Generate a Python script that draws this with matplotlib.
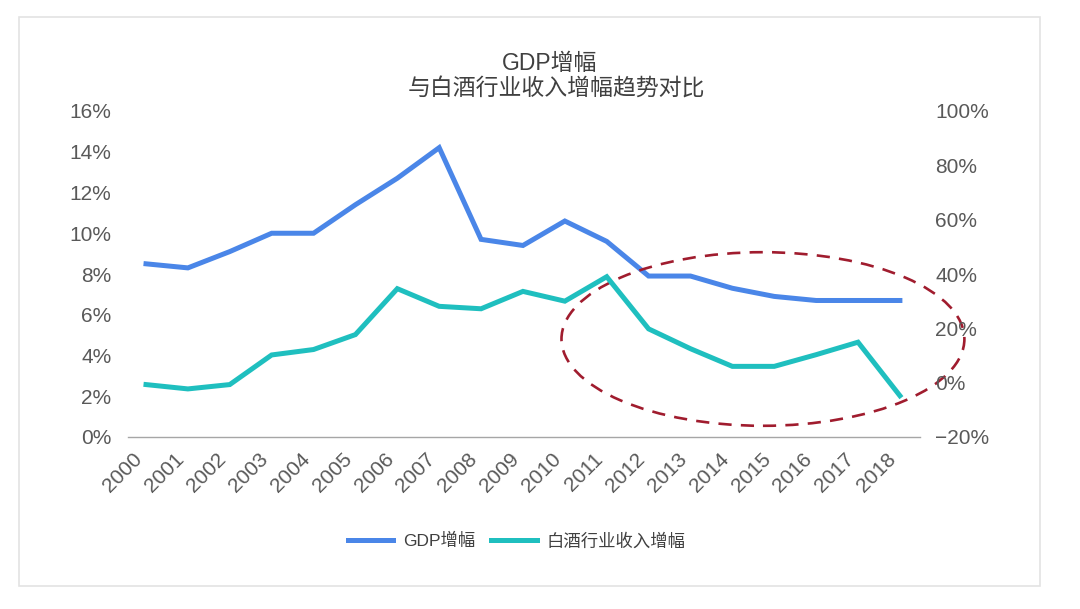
import matplotlib
matplotlib.use('Agg')
import matplotlib.pyplot as plt
from matplotlib.patches import Ellipse, Rectangle
from matplotlib.ticker import FuncFormatter

plt.rcParams['font.family'] = ['Liberation Sans', 'Noto Sans CJK SC', 'DejaVu Sans']

# --- data ---
years = [str(y) for y in range(2000, 2019)]
gdp_growth = [8.5, 8.3, 9.1, 10.0, 10.0, 11.4, 12.7, 14.2, 9.7, 9.4,
              10.6, 9.6, 7.9, 7.9, 7.3, 6.9, 6.7, 6.7, 6.7]          # left axis, %
baijiu_growth = [-0.7, -2.3, -0.7, 10.2, 12.2, 17.7, 34.6, 28.1, 27.2, 33.6,
                 30.0, 39.0, 19.8, 12.5, 6.0, 6.0, 10.3, 14.9, -4.8]  # right axis, %
left_ticks = [0, 2, 4, 6, 8, 10, 12, 14, 16]
right_ticks = [-20, 0, 20, 40, 60, 80, 100]

BLUE = '#4A86E8'
TEAL = '#1FBFBF'
TICK_GRAY = '#595959'
RED = '#A01C2E'

fig = plt.figure(figsize=(10.8, 6.09), dpi=100)
ax = fig.add_axes([128 / 1080, 1 - 437 / 609, (920 - 128) / 1080, (437 - 111) / 609])
ax2 = ax.twinx()

x = list(range(len(years)))
l1, = ax.plot(x, gdp_growth, color=BLUE, lw=3.6, solid_joinstyle='miter', label='GDP增幅', zorder=3)
l2, = ax2.plot(x, baijiu_growth, color=TEAL, lw=3.6, solid_joinstyle='miter', label='白酒行业收入增幅', zorder=3)

ax.set_xlim(-0.43, 18.48)
ax.set_ylim(0, 16)
ax2.set_ylim(-20, 100)
ax.set_yticks(left_ticks)
ax2.set_yticks(right_ticks)
ax.yaxis.set_major_formatter(FuncFormatter(lambda v, p: f'{v:.0f}%'))
ax2.yaxis.set_major_formatter(FuncFormatter(lambda v, p: f'{v:.0f}%'.replace('-', '\u2212')))

ax.set_xticks(x)
ax.set_xticklabels(years, rotation=45, ha='right')

for a in (ax, ax2):
    for s in ('top', 'left', 'right', 'bottom'):
        a.spines[s].set_visible(False)
    a.tick_params(length=0, labelsize=15, labelcolor=TICK_GRAY)
ax.spines['bottom'].set_visible(True)
ax.spines['bottom'].set_color('#A6A6A6')
ax.spines['bottom'].set_linewidth(1.0)
ax.tick_params(axis='y', pad=12)
ax.tick_params(axis='x', pad=9)
ax2.tick_params(axis='y', pad=11)

# dashed highlight ellipse around 2012-2018
ell = Ellipse((14.73, 4.81), width=9.62, height=8.52, fill=False,
              edgecolor=RED, lw=1.9, linestyle=(0, (5, 3.5)),
              clip_on=False, zorder=5)
ax.add_patch(ell)

# title
fig.text(550 / 1080, 1 - 63 / 609, 'GDP增幅', ha='center', va='center',
         fontsize=16.5, color='#404040')
fig.text(556 / 1080, 1 - 89 / 609, '与白酒行业收入增幅趋势对比', ha='center', va='center',
         fontsize=16.5, color='#404040')

# legend
fig.legend(handles=[l1, l2], loc='center', bbox_to_anchor=(517 / 1080, 1 - 541 / 609),
           ncol=2, frameon=False, fontsize=12.5, handlelength=2.6,
           handletextpad=0.6, columnspacing=0.9, labelcolor='#404040')

# light frame around the chart
fig.patches.append(Rectangle((19 / 1080, 1 - 586 / 609), (1040 - 19) / 1080, (586 - 17) / 609,
                             transform=fig.transFigure, fill=False,
                             edgecolor='#E3E3E3', lw=1.2))

fig.savefig('out.png', dpi=100, facecolor='white')
